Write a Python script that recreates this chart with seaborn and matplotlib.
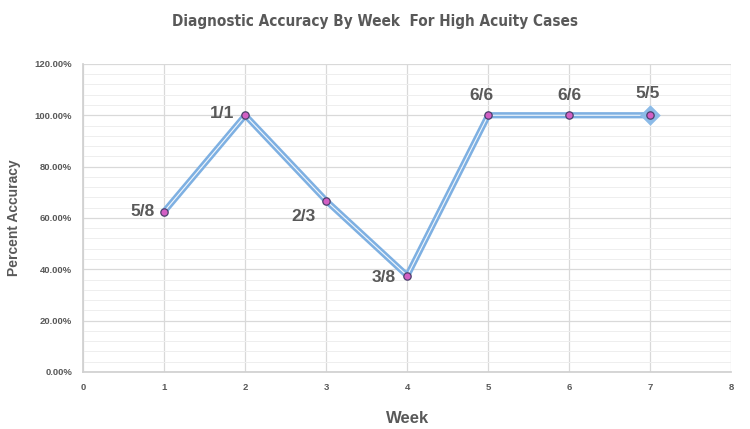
import numpy as np
import pandas as pd
import matplotlib
matplotlib.use('Agg')
import matplotlib.pyplot as plt
import seaborn as sns
from matplotlib.ticker import MultipleLocator, FuncFormatter

# data
weeks = [1, 2, 3, 4, 5, 6, 7]
correct = [5, 1, 2, 3, 6, 6, 5]
total = [8, 1, 3, 8, 6, 6, 5]
accuracy = [c / t for c, t in zip(correct, total)]
labels = [f'{c}/{t}' for c, t in zip(correct, total)]

df = pd.DataFrame({'Week': weeks, 'Accuracy': accuracy, 'Label': labels})

sns.set_theme(style='white')
plt.rcParams['font.family'] = ['Liberation Sans', 'DejaVu Sans']
grey = '#595959'

fig = plt.figure(figsize=(7.5, 4.29), dpi=100)
ax = fig.add_axes([0.111, 0.133, 0.864, 0.718])

# double-line look: thick blue line with thin white core
sns.lineplot(data=df, x='Week', y='Accuracy', ax=ax, color='#7eb0e2',
             linewidth=4.5, zorder=3)
sns.lineplot(data=df, x='Week', y='Accuracy', ax=ax, color='white',
             linewidth=0.8, alpha=0.9, zorder=4)
# last point diamond
ax.scatter(df['Week'].iloc[-1:], df['Accuracy'].iloc[-1:], marker='D', s=110,
           color='#8cbbe8', zorder=5, linewidths=0)
sns.scatterplot(data=df, x='Week', y='Accuracy', ax=ax, color='#d35fc4',
                edgecolor='#4a3f6b', linewidth=0.9, s=28, zorder=6)

# data labels
offsets = [(-7, 0, 'right'), (-8, 1, 'right'), (-8, -11, 'right'),
           (-8, -1, 'right'), (-5, 14, 'center'), (0, 14, 'center'),
           (-2, 16, 'center')]
for (x, y, lab), (dx, dy, ha) in zip(zip(weeks, accuracy, labels), offsets):
    ax.annotate(lab, (x, y), xytext=(dx, dy), textcoords='offset points',
                ha=ha, va='center', fontsize=12.5, fontweight='bold', color=grey)

ax.set_xlim(0, 8)
ax.set_ylim(0, 1.2)
ax.xaxis.set_major_locator(MultipleLocator(1))
ax.yaxis.set_major_locator(MultipleLocator(0.2))
ax.yaxis.set_minor_locator(MultipleLocator(0.04))
ax.yaxis.set_major_formatter(FuncFormatter(lambda v, p: f'{v*100:.2f}%'))
ax.grid(True, which='major', color='#d9d9d9', linewidth=0.9)
ax.grid(True, which='minor', axis='y', color='#eeeeee', linewidth=0.7)
ax.set_axisbelow(True)
for s in ['top', 'right']:
    ax.spines[s].set_visible(False)
for s in ['left', 'bottom']:
    ax.spines[s].set_color('#d0d0d0')
ax.tick_params(axis='both', which='both', length=0, labelsize=6.8,
               labelcolor=grey, pad=8)
for t in ax.get_xticklabels() + ax.get_yticklabels():
    t.set_fontweight('bold')

ax.set_xlabel('Week', fontsize=12, fontweight='bold', color=grey, labelpad=14)
ax.set_ylabel('Percent Accuracy', fontsize=10, fontweight='bold', color=grey,
              labelpad=10)
fig.text(0.5, 0.949, 'Diagnostic Accuracy By Week  For High Acuity Cases',
         ha='center', va='center', fontsize=11, fontweight='bold', color=grey,
         family=['Liberation Sans Narrow', 'DejaVu Sans'], stretch='condensed')

fig.savefig('out.png', dpi=100)
